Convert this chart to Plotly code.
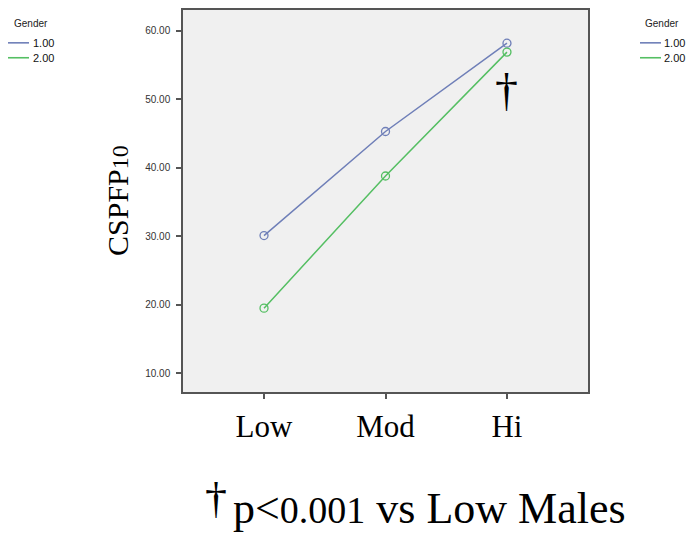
import plotly.graph_objects as go

# Activity level categories and mean CSPFP10 per gender
levels = ["Low", "Mod", "Hi"]
gender_1 = [30.1, 45.3, 58.2]
gender_2 = [19.5, 38.8, 56.9]
gender_labels = ["1.00", "2.00"]
y_ticks = [10, 20, 30, 40, 50, 60]

colors = ["#6f7fb8", "#55bf63"]

W, H = 692, 538
L, R, T, B = 183, 588, 8, 392  # plot box in pixels


def px(x):
    return (x - L) / (R - L)


def py(y):
    return (B - y) / (B - T)


fig = go.Figure()
for vals, name, col in zip([gender_1, gender_2], gender_labels, colors):
    fig.add_trace(go.Scatter(
        x=levels, y=vals, mode="lines+markers", name=name,
        line=dict(color=col, width=1.5),
        marker=dict(symbol="circle-open", size=8, color=col, line=dict(width=1.3)),
        showlegend=False,
    ))

shapes = []
annotations = []

# Two identical "Gender" legends, one on each side
for gx, line_x0, line_x1, lab_x in [(31, 8, 29, 31), (662, 640, 661, 662)]:
    annotations.append(dict(
        x=px(gx), y=py(22), xref="paper", yref="paper", text="Gender",
        showarrow=False, xanchor="center", yanchor="middle",
        font=dict(family="Liberation Sans Narrow, Liberation Sans, Arial", size=10, color="#222222"),
    ))
    for i, (name, col) in enumerate(zip(gender_labels, colors)):
        yy = 41 + 15 * i
        shapes.append(dict(
            type="line", xref="paper", yref="paper",
            x0=px(line_x0), x1=px(line_x1), y0=py(yy), y1=py(yy),
            line=dict(color=col, width=1.6),
        ))
        annotations.append(dict(
            x=px(lab_x), y=py(yy), xref="paper", yref="paper", text=name,
            showarrow=False, xanchor="left", yanchor="middle",
            font=dict(family="Liberation Sans Narrow, Liberation Sans, Arial", size=11, color="#111111"),
        ))

# Significance marker beside the Hi points
annotations.append(dict(
    x="Hi", y=51.3, xref="x", yref="y", text="†", showarrow=False,
    xanchor="center", yanchor="middle",
    font=dict(family="Liberation Serif", size=46, color="#000000"),
))

# Y-axis title
annotations.append(dict(
    x=px(117), y=py(200), xref="paper", yref="paper",
    text='CSPFP<span style="font-size:24px">10</span>',
    textangle=-90, showarrow=False, xanchor="center", yanchor="middle",
    font=dict(family="Liberation Serif", size=30, color="#000000"),
))

# Footnote: raised dagger followed by the note text
annotations.append(dict(
    x=px(216), y=py(499), xref="paper", yref="paper", text="†",
    showarrow=False, xanchor="center", yanchor="middle",
    font=dict(family="Liberation Serif", size=44, color="#000000"),
))
annotations.append(dict(
    x=px(231), y=py(509), xref="paper", yref="paper",
    text='p<<span style="font-size:38px">0.001</span> vs Low Males',
    showarrow=False, xanchor="left", yanchor="middle",
    font=dict(family="Liberation Serif", size=44, color="#000000"),
))

fig.update_layout(
    width=W, height=H,
    margin=dict(l=L, r=W - R, t=T, b=H - B, pad=0),
    paper_bgcolor="white", plot_bgcolor="#f0f0f0",
    shapes=shapes, annotations=annotations,
    showlegend=False,
)
fig.update_xaxes(
    type="category", range=[-0.667, 2.667],
    showgrid=False, zeroline=False,
    showline=True, mirror=True, linecolor="#555555", linewidth=1.5,
    ticks="outside", ticklen=5, tickwidth=1.5, tickcolor="#555555",
    tickfont=dict(family="Liberation Serif", size=31, color="#000000"),
    ticklabelstandoff=1,
)
fig.update_yaxes(
    range=[7.25, 63.05], tickvals=y_ticks,
    ticktext=[f"{v:.2f}" for v in y_ticks],
    showgrid=False, zeroline=False,
    showline=True, mirror=True, linecolor="#555555", linewidth=1.5,
    ticks="outside", ticklen=5, tickwidth=1.5, tickcolor="#555555",
    tickfont=dict(family="Liberation Sans Narrow, Liberation Sans, Arial", size=10, color="#333333"),
    ticklabelstandoff=4,
)

fig.write_html("out.html")
